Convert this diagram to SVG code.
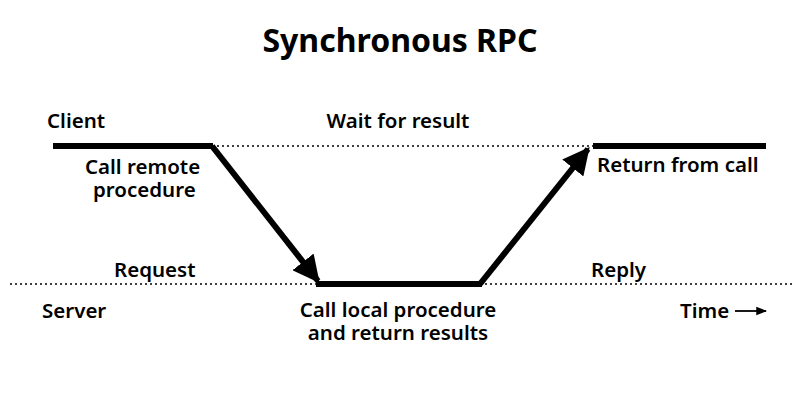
<svg xmlns="http://www.w3.org/2000/svg" width="800" height="400" viewBox="0 0 800 400">
<style>
text{font-family:"Noto Sans","Open Sans",sans-serif;font-weight:600;font-size:20.5px;fill:#000}
.thick{stroke:#000;stroke-width:6;fill:none}
.dot{stroke:#000;stroke-width:1.5;stroke-dasharray:2 3;fill:none}
</style>
<defs>
<marker id="ah" viewBox="0 0 10 10" refX="9" refY="5" markerWidth="4.5" markerHeight="4.5" orient="auto" markerUnits="strokeWidth"><path d="M0,0 L10,5 L0,10 z" fill="#000"/></marker>
<marker id="ts" viewBox="0 0 10 10" refX="9" refY="5" markerWidth="6" markerHeight="6" orient="auto"><path d="M0,1 L10,5 L0,9 z" fill="#000"/></marker>
</defs>
<rect width="800" height="400" fill="#fff"/>
<text x="400" y="52" text-anchor="middle" style="font-size:32px;font-weight:700">Synchronous RPC</text>
<g id="connectors">
<line class="dot" x1="212" y1="146" x2="595" y2="146"/>
<line class="dot" x1="10" y1="284" x2="795" y2="284"/>
<line class="thick" x1="212" y1="146" x2="318" y2="281" marker-end="url(#ah)"/>
<line class="thick" x1="480" y1="284" x2="588" y2="149" marker-end="url(#ah)"/>
<line x1="735" y1="311" x2="766" y2="311" stroke="#000" stroke-width="1.8" marker-end="url(#ts)"/>
</g>
<g id="client"><line class="thick" x1="53" y1="146" x2="213" y2="146"/><text x="47" y="128">Client</text></g>
<g id="return"><line class="thick" x1="593" y1="146" x2="766" y2="146"/><text x="597" y="172">Return from call</text></g>
<g id="server-line"><line class="thick" x1="316" y1="284" x2="482" y2="284"/></g>
<g id="labels">
<text x="85" y="174">Call remote</text>
<text x="93" y="197">procedure</text>
<text x="398" y="128" text-anchor="middle">Wait for result</text>
<text x="114" y="277">Request</text>
<text x="591" y="277">Reply</text>
<text x="42" y="318">Server</text>
<text x="398" y="317" text-anchor="middle">Call local procedure</text>
<text x="398" y="340" text-anchor="middle">and return results</text>
<text x="680" y="318">Time</text>
</g>
</svg>
